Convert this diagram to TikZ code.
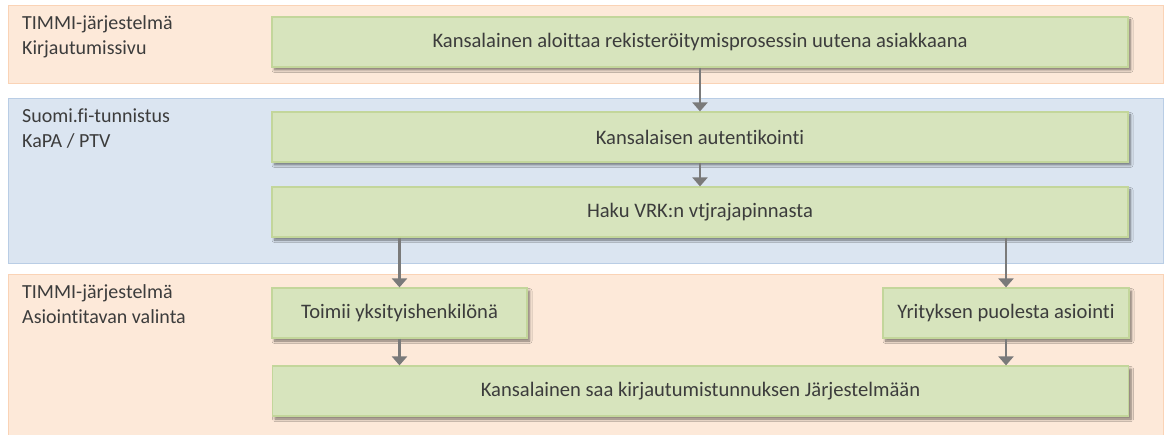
\documentclass[tikz,border=0pt]{standalone}
\usepackage{fontspec}
\setmainfont{Carlito}[Ligatures=NoCommon]
\usetikzlibrary{arrows.meta,shadows.blur}
\definecolor{panelorange}{HTML}{FDE9D9}
\definecolor{panelorangeedge}{HTML}{FAD3B6}
\definecolor{panelblue}{HTML}{DBE5F1}
\definecolor{panelblueedge}{HTML}{B9CDE5}
\definecolor{stepfill}{HTML}{D7E4BD}
\definecolor{stepedge}{HTML}{C3D69B}
\definecolor{txt}{HTML}{3C3C3C}
\definecolor{arrowgray}{HTML}{7A7A7A}
\tikzset{
  panel/.style={draw, line width=1.2pt, anchor=north west, inner sep=0pt},
  orangepanel/.style={panel, fill=panelorange, draw=panelorangeedge},
  bluepanel/.style={panel, fill=panelblue, draw=panelblueedge},
  paneltitle/.style={anchor=base west, inner sep=0pt, text=txt,
    font=\fontsize{20}{24.5}\selectfont},
  stepbox/.style={draw=stepedge, line width=1.2pt, fill=stepfill, text=txt,
    minimum height=50pt, inner sep=0pt, font=\fontsize{20.6}{24}\selectfont,
    blur shadow={shadow xshift=2.5pt, shadow yshift=-3pt, shadow blur steps=6,
      shadow blur extra rounding=0pt, shadow blur radius=2.5pt, shadow opacity=50}},
  flow/.style={draw=arrowgray, line width=2.8pt,
    -{Triangle[width=15pt,length=9pt]}}
}
\begin{document}
\begin{tikzpicture}[x=1pt,y=-1pt]
\useasboundingbox (0,0) rectangle (1168,435);
% swim lanes
\node[orangepanel, minimum width=1155pt, minimum height=78pt] (lane1) at (8,5) {};
\node[bluepanel, minimum width=1155pt, minimum height=165pt] (lane2) at (8,98) {};
\node[orangepanel, minimum width=1155pt, minimum height=162pt] (lane3) at (8,274) {};
% lane titles, one node per line
\node[paneltitle] (t1a) at (22,30) {TIMMI-järjestelmä};
\node[paneltitle] (t1b) at (22,54.5) {Kirjautumissivu};
\node[paneltitle] (t2a) at (22,123) {Suomi.fi-tunnistus};
\node[paneltitle] (t2b) at (22,147.5) {KaPA / PTV};
\node[paneltitle] (t3a) at (22,299) {TIMMI-järjestelmä};
\node[paneltitle] (t3b) at (22,323.5) {Asiointitavan valinta};
% process steps
\node[stepbox, minimum width=856pt] (b1) at (700,42) {Kansalainen aloittaa rekisteröitymisprosessin uutena asiakkaana};
\node[stepbox, minimum width=856pt] (b2) at (700,137) {Kansalaisen autentikointi};
\node[stepbox, minimum width=856pt] (b3) at (700,212) {Haku VRK:n vtjrajapinnasta};
\node[stepbox, minimum width=255pt] (b4) at (399.5,313) {Toimii yksityishenkilönä};
\node[stepbox, minimum width=246pt] (b5) at (1006,313) {Yrityksen puolesta asiointi};
\node[stepbox, minimum width=856pt] (b6) at (700.5,391) {Kansalainen saa kirjautumistunnuksen Järjestelmään};
% connectors
\draw[flow] (b1) -- (b2);
\draw[flow] (b2) -- (b3);
\draw[flow] (b3.south -| b4.north) -- (b4.north);
\draw[flow] (b3.south -| b5.north) -- (b5.north);
\draw[flow] (b4.south) -- (b4.south |- b6.north);
\draw[flow] (b5.south) -- (b5.south |- b6.north);
\end{tikzpicture}
\end{document}
